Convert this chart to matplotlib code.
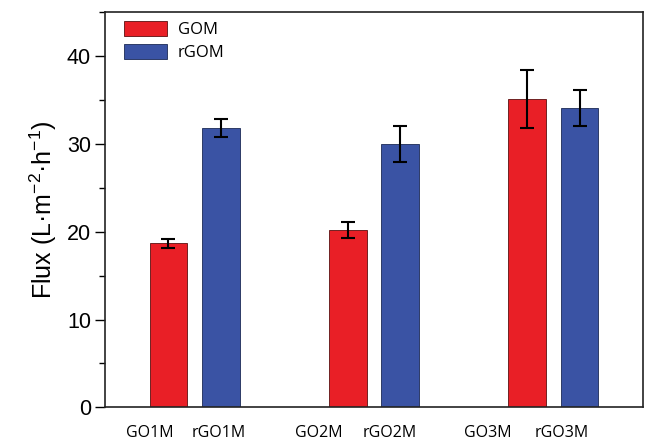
import matplotlib
matplotlib.use("Agg")
import matplotlib.pyplot as plt
import numpy as np
from matplotlib.ticker import MultipleLocator

# data
groups = ["GO1M", "GO2M", "GO3M"]
gom_flux = [18.7, 20.2, 35.1]
gom_err = [0.5, 0.95, 3.3]
rgom_flux = [31.85, 29.95, 34.05]
rgom_err = [1.0, 2.05, 2.05]
tick_labels = ["GO1M", "rGO1M", "GO2M", "rGO2M", "GO3M", "rGO3M"]
# labels in the original sit a little left of their bars
label_shift = [-0.105, -0.011, -0.16, -0.056, -0.217, -0.10]

red = "#E91F26"
blue = "#3A53A4"

plt.rcParams["mathtext.default"] = "regular"

fig = plt.figure(figsize=(6.45, 4.46), dpi=100)
ax = fig.add_axes([0.1628, 0.0868, 0.8342, 0.8856])

x = np.arange(len(groups))
offset = 0.146
width = 0.21

ax.bar(x - offset, gom_flux, width, color=red, edgecolor="#5a1010",
       linewidth=0.6, label="GOM")
ax.bar(x + offset, rgom_flux, width, color=blue, edgecolor="#1c2a55",
       linewidth=0.6, label="rGOM")
ax.errorbar(x - offset, gom_flux, yerr=gom_err, fmt="none", ecolor="black",
            elinewidth=1.5, capsize=5, capthick=1.5)
ax.errorbar(x + offset, rgom_flux, yerr=rgom_err, fmt="none", ecolor="black",
            elinewidth=1.5, capsize=5, capthick=1.5)

ax.set_xlim(-0.5, 2.5)
ax.set_ylim(0, 45)

centers = np.column_stack([x - offset, x + offset]).ravel()
ax.set_xticks(centers + np.array(label_shift))
ax.set_xticklabels(tick_labels, fontfamily="Open Sans", fontsize=11.5)
ax.tick_params(axis="x", length=0, pad=13)

ax.yaxis.set_major_locator(MultipleLocator(10))
ax.yaxis.set_minor_locator(MultipleLocator(5))
ax.tick_params(axis="y", which="major", length=7, width=1, direction="out",
               labelsize=15.5, pad=3)
ax.tick_params(axis="y", which="minor", length=4, width=1, direction="out")
for lab in ax.get_yticklabels():
    lab.set_fontfamily("Liberation Sans")

ax.set_ylabel("Flux (L·m$^{-2}$·h$^{-1}$)", fontfamily="Liberation Sans",
              fontsize=18, labelpad=6)

for sp in ax.spines.values():
    sp.set_linewidth(1.2)
    sp.set_color("#222222")

leg = ax.legend(loc="upper left", bbox_to_anchor=(0.013, 1.008), frameon=False,
                prop={"family": "Open Sans", "size": 12},
                handlelength=2.6, handleheight=1.0, handletextpad=0.65,
                labelspacing=0.35, borderaxespad=0.3)

fig.savefig("out.png", dpi=100)
